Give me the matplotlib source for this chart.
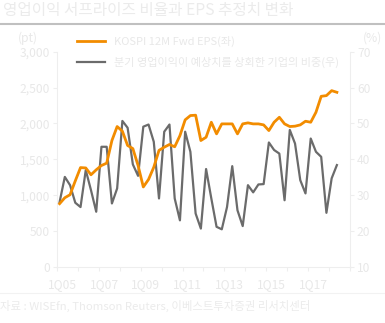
import matplotlib.pyplot as plt
from matplotlib.lines import Line2D
from matplotlib.ticker import FuncFormatter

plt.rcParams['font.family'] = ['Noto Sans CJK KR', 'DejaVu Sans']

# 1Q05 ~ 2Q18, quarterly
eps = [882, 965, 1007, 1200, 1385, 1380, 1285, 1354, 1414, 1447,
       1762, 1957, 1892, 1693, 1650, 1414, 1115, 1220, 1390, 1625,
       1669, 1707, 1675, 1830, 2050, 2110, 2115, 1762, 1808, 2017,
       1855, 1994, 1994, 1994, 1855, 1994, 2008, 1994, 1994, 1980,
       1901, 2017, 2086, 1994, 1957, 1962, 1980, 2031, 2017, 2156,
       2378, 2388, 2457, 2434]
surprise = [28.1, 35.1, 32.8, 27.9, 26.7, 37.0, 31.4, 25.4, 43.5, 43.5,
            27.7, 31.9, 50.7, 48.8, 38.6, 35.4, 49.1, 49.7, 44.9, 29.1,
            47.7, 49.7, 29.1, 23.0, 47.7, 42.1, 24.9, 20.7, 37.3, 29.1,
            21.2, 20.5, 26.7, 38.1, 25.8, 21.4, 32.8, 30.8, 33.0, 33.1,
            44.7, 42.6, 41.6, 28.6, 48.2, 44.4, 34.2, 30.5, 45.8, 42.1,
            40.7, 25.1, 34.7, 38.4]
year_labels = ['1Q05', '1Q07', '1Q09', '1Q11', '1Q13', '1Q15', '1Q17']

orange = '#f28c00'
gray = '#6b6b6b'
light = '#e8e8e8'
axcol = '#eeeeee'

fig = plt.figure(figsize=(3.85, 3.23), dpi=100)
ax = fig.add_axes([0.148, 0.1734, 0.761, 0.6666])
ax2 = ax.twinx()

x = list(range(len(eps)))
ax.plot(x, eps, color=orange, lw=2, zorder=3)
ax2.plot(x, surprise, color=gray, lw=1.6, zorder=2)
ax.set_zorder(ax2.get_zorder() + 1)
ax.patch.set_visible(False)

ax.set_xlim(-0.5, 55.5)
ax.set_ylim(0, 3000)
ax2.set_ylim(10, 70)
ax.set_yticks(range(0, 3001, 500))
ax2.set_yticks(range(10, 71, 10))
ax.yaxis.set_major_formatter(FuncFormatter(lambda v, p: f'{int(v):,}'))

ax.set_xticks([-0.5 + 4 * k for k in range(15)])
ax.set_xticklabels([])
ax.set_xticks([0.5 + 8 * k for k in range(len(year_labels))], minor=True)
ax.set_xticklabels(year_labels, minor=True)
ax.tick_params(axis='x', which='minor', length=0, pad=8, labelsize=8.7, labelcolor=light)
ax.tick_params(axis='x', which='major', length=3, color=axcol)
ax.tick_params(axis='y', length=3, color=axcol, labelsize=8.7, labelcolor=light, pad=2)
ax2.tick_params(axis='y', length=3, color=axcol, labelsize=8.7, labelcolor=light, pad=2)

for a in (ax, ax2):
    for s in a.spines.values():
        s.set_visible(False)
ax.spines['left'].set_visible(True)
ax.spines['bottom'].set_visible(True)
ax2.spines['right'].set_visible(True)
ax.spines['left'].set_color(axcol)
ax.spines['bottom'].set_color(axcol)
ax2.spines['right'].set_color(axcol)

fig.text(28 / 385, 1 - 38 / 323, '(pt)', fontsize=8.7, color=light, ha='center', va='center')
fig.text(372 / 385, 1 - 38 / 323, '(%)', fontsize=8.7, color=light, ha='center', va='center')

# legend
handles = [Line2D([], [], color=orange, lw=2), Line2D([], [], color=gray, lw=1.6)]
fig.legend(handles, ['KOSPI 12M Fwd EPS(좌)', '분기 영업이익이 예상치를 상회한 기업의 비중(우)'],
           loc='upper left', bbox_to_anchor=(77 / 385, 1 - 36 / 323), frameon=False,
           fontsize=8, labelcolor=light, handlelength=2.5, handletextpad=0.8,
           labelspacing=0.85, borderaxespad=0, borderpad=0)

# title and footer
fig.text(3 / 385, 1 - 11 / 323, '영업이익 서프라이즈 비율과 EPS 추정치 변화',
         fontsize=11.3, color='#ebebeb', ha='left', va='center')
fig.add_artist(Line2D([0, 1], [1 - 23.5 / 323] * 2, color='#c0c0c0', lw=1.5))
fig.add_artist(Line2D([0, 1], [1 - 292.5 / 323] * 2, color='#f2f2f2', lw=0.8))
fig.text(0, 1 - 306 / 323, '자료 : WISEfn, Thomson Reuters, 이베스트투자증권 리서치센터',
         fontsize=8.2, color='#ebebeb', ha='left', va='center')

fig.savefig('out.png', dpi=100)
